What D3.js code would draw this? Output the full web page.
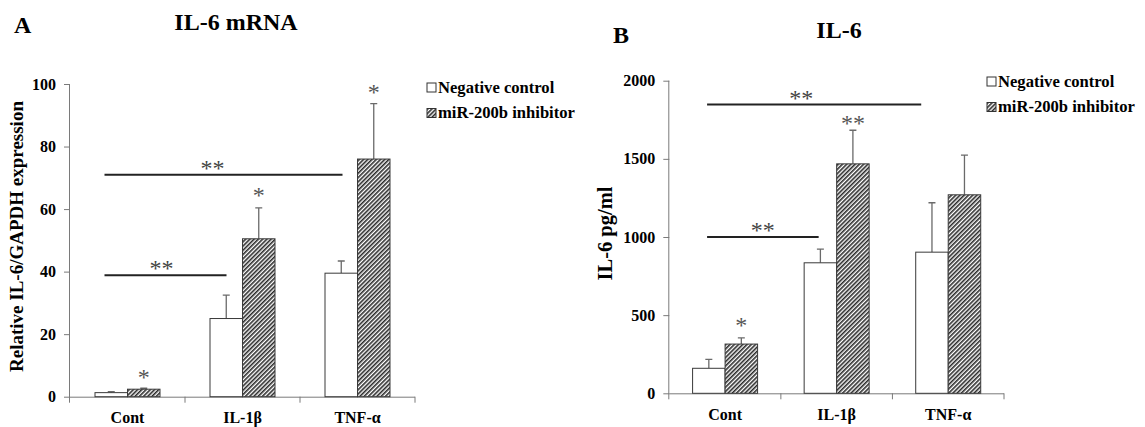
<!DOCTYPE html>
<html>
<head>
<meta charset="utf-8">
<script src="https://cdn.jsdelivr.net/npm/d3@7"></script>
<style>
  html, body { margin: 0; padding: 0; background: #fff; }
  svg { display: block; }
  svg text { font-family: "Liberation Serif", "Times New Roman", serif; font-weight: bold; }
</style>
</head>
<body>
<svg id="chart" width="1145" height="427"></svg>
<script>
// ---- data ----
const categories = ["Cont", "IL-1β", "TNF-α"];
const seriesNames = ["Negative control", "miR-200b inhibitor"];

// Panel A: IL-6 mRNA (relative IL-6/GAPDH expression)
const mrnaControl = [1.3, 25.0, 39.5];
const mrnaControlErr = [0.3, 7.5, 3.9];
const mrnaInhibitor = [2.4, 50.5, 76.0];
const mrnaInhibitorErr = [0.3, 9.9, 17.7];
const mrnaTicks = [0, 20, 40, 60, 80, 100];
const mrnaStars = ["*", "*", "*"];           // above inhibitor bars
const mrnaBrackets = [
  { from: "Cont", to: "TNF-α", value: 71, label: "**" },
  { from: "Cont", to: "IL-1β", value: 38.8, label: "**" }
];

// Panel B: IL-6 protein (pg/ml)
const il6Control = [160, 835, 903];
const il6ControlErr = [57, 88, 316];
const il6Inhibitor = [315, 1468, 1270];
const il6InhibitorErr = [39, 215, 254];
const il6Ticks = [0, 500, 1000, 1500, 2000];
const il6Stars = ["*", "**", ""];
const il6Brackets = [
  { from: "Cont", to: "TNF-α", value: 1847, label: "**" },
  { from: "Cont", to: "IL-1β", value: 1000, label: "**" }
];

// ---- drawing ----
const svg = d3.select("#chart");
const defs = svg.append("defs");
const pat = defs.append("pattern")
  .attr("id", "hatch")
  .attr("patternUnits", "userSpaceOnUse")
  .attr("width", 3).attr("height", 3)
  .attr("patternTransform", "rotate(45)");
pat.append("rect").attr("width", 3).attr("height", 3).attr("fill", "#fff");
pat.append("rect").attr("width", 1.6).attr("height", 3).attr("fill", "#2a2a2a");

function drawPanel(cfg) {
  const g = svg.append("g");
  const x = d3.scaleBand().domain(categories).range([cfg.x0, cfg.x1]);
  const y = d3.scaleLinear().domain(cfg.domain).range([cfg.y0, cfg.y1]);
  const pairW = 65;
  const inner = d3.scaleBand().domain(seriesNames).range([0, pairW]);
  const bw = inner.bandwidth();
  const axisColor = "#7a7a7a";

  // y axis
  const ya = g.append("g").attr("transform", `translate(${cfg.x0},0)`)
    .call(d3.axisLeft(y).tickValues(cfg.ticks).tickFormat(d3.format("d")).tickSize(6).tickPadding(8));
  ya.attr("font-family", null).attr("font-size", null);
  ya.select(".domain").attr("stroke", axisColor).attr("d", `M-0.5,${cfg.y1}V${cfg.y0 + 6}`);
  ya.selectAll(".tick line").attr("stroke", axisColor);
  ya.selectAll(".tick text").attr("fill", "#000").style("font-size", "16px");

  // x axis
  const xa = g.append("g").attr("transform", `translate(0,${cfg.y0})`)
    .call(d3.axisBottom(x).tickSize(0).tickPadding(15));
  xa.attr("font-family", null).attr("font-size", null);
  xa.select(".domain").attr("stroke", axisColor).attr("d", `M${cfg.x0},0.5H${cfg.x1}`);
  xa.selectAll(".tick text").attr("fill", "#000").style("font-size", "16px");
  const bounds = categories.map(c => x(c)).concat([x(categories[categories.length - 1]) + x.bandwidth()]);
  xa.selectAll(".btick").data(bounds.slice(1)).enter().append("line")
    .attr("x1", d => d).attr("x2", d => d).attr("y1", 0).attr("y2", 6)
    .attr("stroke", axisColor);

  // bars
  const series = [
    { name: seriesNames[0], vals: cfg.ctrl, errs: cfg.ctrlErr, fill: "#fff" },
    { name: seriesNames[1], vals: cfg.inh, errs: cfg.inhErr, fill: "url(#hatch)" }
  ];
  const barX = (i, name) => x(categories[i]) + x.bandwidth() / 2 - pairW / 2 + inner(name);
  series.forEach(s => {
    g.selectAll(null).data(s.vals).enter().append("path")
      .attr("d", (d, i) => {
        const cx = barX(i, s.name) + bw / 2;
        const top = y(d + s.errs[i]);
        return `M${cx},${y(d)}V${top}M${cx - 3.5},${top}H${cx + 3.5}`;
      })
      .attr("stroke", "#6a6a6a").attr("stroke-width", 1.3).attr("fill", "none");
    g.selectAll(null).data(s.vals).enter().append("rect")
      .attr("x", (d, i) => barX(i, s.name))
      .attr("y", d => y(d))
      .attr("width", bw)
      .attr("height", d => y(0) - y(d))
      .attr("fill", s.fill)
      .attr("stroke", "#3a3a3a").attr("stroke-width", 1);
  });

  // stars above inhibitor bars
  g.selectAll(null).data(cfg.stars).enter().append("text")
    .attr("x", (d, i) => barX(i, seriesNames[1]) + bw / 2)
    .attr("y", (d, i) => y(cfg.inh[i] + cfg.inhErr[i]) - cfg.starGap[i] + 11)
    .attr("text-anchor", "middle")
    .style("font-size", "24px").style("font-weight", "normal")
    .attr("fill", "#555")
    .text(d => d);

  // brackets
  cfg.brackets.forEach((b, k) => {
    const xs = x(b.from) + x.bandwidth() / 2 + cfg.brStart;
    const xe = x(b.to) + x.bandwidth() / 2 + cfg.brEnd[k];
    const yy = y(b.value);
    g.append("line").attr("x1", xs).attr("x2", xe).attr("y1", yy).attr("y2", yy)
      .attr("stroke", "#222").attr("stroke-width", 2);
    g.append("text").attr("x", (xs + xe) / 2 + cfg.brLabelDx[k]).attr("y", yy + 1)
      .attr("text-anchor", "middle")
      .style("font-size", "24px").style("font-weight", "normal")
      .attr("fill", "#444").text(b.label);
  });

  // y label
  g.append("text")
    .attr("transform", `translate(${cfg.ylabX},${cfg.ylabY}) rotate(-90)`)
    .attr("text-anchor", "middle")
    .style("font-size", cfg.ylabSize + "px")
    .text(cfg.ylabel);

  // title and panel letter
  g.append("text").attr("x", cfg.titleX).attr("y", cfg.titleY)
    .attr("text-anchor", "middle").style("font-size", "24px").text(cfg.title);
  g.append("text").attr("x", cfg.letterX).attr("y", cfg.letterY)
    .style("font-size", "24px").text(cfg.letter);

  // legend
  const lg = g.append("g").attr("transform", `translate(${cfg.legX},${cfg.legY})`);
  seriesNames.forEach((n, i) => {
    lg.append("rect").attr("x", 0).attr("y", i * 25.5).attr("width", 9).attr("height", 9)
      .attr("fill", i === 0 ? "#fff" : "url(#hatch)").attr("stroke", "#333").attr("stroke-width", 1);
    lg.append("text").attr("x", 11).attr("y", i * 25.5 + 9.5)
      .style("font-size", "16.6px").text(n);
  });
}

drawPanel({
  x0: 70, x1: 415, y0: 396.7, y1: 84, domain: [0, 100], ticks: mrnaTicks,
  ctrl: mrnaControl, ctrlErr: mrnaControlErr, inh: mrnaInhibitor, inhErr: mrnaInhibitorErr,
  stars: mrnaStars, starGap: [14, 16, 15], brackets: mrnaBrackets, brStart: -23, brEnd: [-15, -16],
  brLabelDx: [-11, -4],
  ylabel: "Relative IL-6/GAPDH  expression", ylabX: 23, ylabY: 236.5, ylabSize: 19,
  title: "IL-6 mRNA", titleX: 236, titleY: 30, letter: "A", letterX: 14, letterY: 33,
  legX: 427, legY: 83
});

drawPanel({
  x0: 669.3, x1: 1004, y0: 393.3, y1: 80.7, domain: [0, 2000], ticks: il6Ticks,
  ctrl: il6Control, ctrlErr: il6ControlErr, inh: il6Inhibitor, inhErr: il6InhibitorErr,
  stars: il6Stars, starGap: [16, 10, 0], brackets: il6Brackets, brStart: -18, brEnd: [-27, -18],
  brLabelDx: [-13, 0],
  ylabel: "IL-6 pg/ml", ylabX: 612, ylabY: 233.5, ylabSize: 20.5,
  title: "IL-6", titleX: 839, titleY: 38, letter: "B", letterX: 613, letterY: 43,
  legX: 987, legY: 77
});
</script>
</body>
</html>
